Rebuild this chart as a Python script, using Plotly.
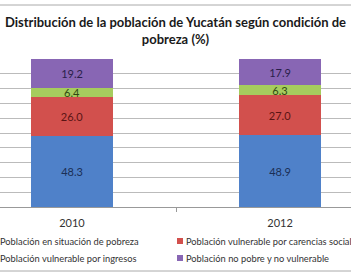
import plotly.graph_objects as go

years = ["2010", "2012"]
series_names = [
    "Población en situación de pobreza",
    "Población vulnerable por carencias sociales",
    "Población vulnerable por ingresos",
    "Población no pobre y no vulnerable",
]
pobreza = [48.3, 48.9]
carencias = [26.0, 27.0]
ingresos = [6.4, 6.3]
no_pobre = [19.2, 17.9]

colors = ["#4F81C9", "#D2504D", "#A6CC5E", "#8866B4"]
text_colors = ["#1B2F55", "#5A1414", "#2F4A10", "#2A1F4A"]
values = [pobreza, carencias, ingresos, no_pobre]

W, H = 351, 278
PT, PB = 59, 207  # plot top / bottom in px
PH = PB - PT

xpos = list(range(len(years)))
fig = go.Figure()
for name, vals, c, tc in zip(series_names, values, colors, text_colors):
    fig.add_trace(go.Bar(
        x=xpos, y=vals, name=name, width=0.395,
        marker=dict(color=c, line=dict(width=0)),
        text=[f"{v:.1f}" for v in vals], textposition="inside",
        insidetextanchor="middle", textangle=0, constraintext="none",
        textfont=dict(family="Lato", size=11, color=tc),
        showlegend=False,
    ))

def py(px_y):
    """page pixel y -> paper y"""
    return (PB - px_y) / PH

# legend built from annotations + square markers (chart is cropped on the left)
leg_pos = [(0, 241), (186, 241), (0, 258), (186, 258)]
annotations = []
shapes = []
for name, c, (lx, ly) in zip(series_names, colors, leg_pos):
    annotations.append(dict(
        text=name, xref="paper", yref="paper", x=(lx - 2) / W, y=py(ly),
        xanchor="left", yanchor="middle", showarrow=False,
        font=dict(family="Lato", size=9.3, color="#333333"),
    ))
    shapes.append(dict(
        type="rect", xref="paper", yref="paper",
        x0=(lx - 9) / W, x1=(lx - 3) / W, y0=py(ly + 3), y1=py(ly - 3),
        fillcolor=c, line=dict(width=0),
    ))

# chart frame lines
for fy in (5, 271):
    shapes.append(dict(type="line", xref="paper", yref="paper", x0=0, x1=1,
                       y0=py(fy), y1=py(fy), line=dict(color="#AAAAAA", width=1)))

fig.update_layout(
    barmode="stack",
    width=W, height=H,
    margin=dict(l=0, r=0, t=PT, b=H - PB, autoexpand=False),
    paper_bgcolor="white", plot_bgcolor="white",
    uniformtext=dict(minsize=11, mode="show"),
    title=dict(
        text="<b>Distribución de la población de Yucatán según condición de<br>pobreza (%)</b>",
        x=0.5, xanchor="center", xref="paper", yref="container",
        y=1 - 27 / H, yanchor="middle",
        font=dict(family="Lato", size=13, color="#1a1a1a"),
    ),
    xaxis=dict(
        range=[-0.346, 1.341], tickvals=xpos, ticktext=years,
        showgrid=False, showline=True, linecolor="#999999", linewidth=1,
        ticks="", ticklabelstandoff=6,
        tickfont=dict(family="Lato", size=11, color="#333333"),
        minor=dict(tickmode="array", tickvals=[0.5], ticks="outside",
                   ticklen=4, tickcolor="#999999", showgrid=False),
    ),
    yaxis=dict(
        range=[0, 100], dtick=10, showticklabels=False,
        showgrid=True, gridcolor="#BBBBBB", gridwidth=1, zeroline=False,
    ),
    showlegend=False,
    bargap=0,
    annotations=annotations,
    shapes=shapes,
)

fig.write_html("out.html")
